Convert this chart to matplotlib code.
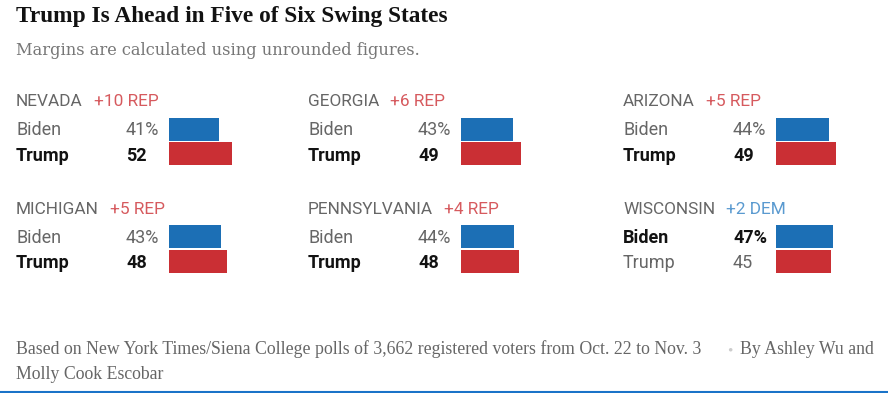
import matplotlib

matplotlib.use("Agg")
import matplotlib.pyplot as plt

W, H = 888, 393

states = ["NEVADA", "GEORGIA", "ARIZONA", "MICHIGAN", "PENNSYLVANIA", "WISCONSIN"]
biden = [41, 43, 44, 43, 44, 47]
trump = [52, 49, 49, 48, 48, 45]
margin_labels = ["+10 REP", "+6 REP", "+5 REP", "+5 REP", "+4 REP", "+2 DEM"]
leader = ["REP", "REP", "REP", "REP", "REP", "DEM"]

title = "Trump Is Ahead in Five of Six Swing States"
subtitle = "Margins are calculated using unrounded figures."
source = "Based on New York Times/Siena College polls of 3,662 registered voters from Oct. 22 to Nov. 3"
byline = "By Ashley Wu and"
byline2 = "Molly Cook Escobar"

BLUE = "#1c6fb5"
RED = "#ca2f34"
REP_TXT = "#d65a5e"
DEM_TXT = "#5a9ad0"
GRAY = "#666666"

SANS = ["Roboto", "DejaVu Sans"]
SERIF = ["Liberation Serif", "DejaVu Serif"]

fig = plt.figure(figsize=(W / 100, H / 100), dpi=100)
renderer = fig.canvas.get_renderer()


def txt(x, y, s, **kw):
    # pixel coords measured from top-left
    return fig.text(x / W, 1 - y / H, s, va="baseline", **kw)


txt(16, 22, title, fontsize=16.8, fontweight="bold", family=SERIF, color="#121212")
txt(16, 55, subtitle, fontsize=11.7, family=["DejaVu Serif"], color="#777777")

col_x = [16, 308, 623]
row_y = [0, 107.5]
px_per_pt = 1.215

for i, st in enumerate(states):
    x0 = col_x[i % 3]
    dy = row_y[i // 3]
    t = txt(x0, 106 + dy, st, fontsize=12.4, family=SANS, color=GRAY)
    right = t.get_window_extent(renderer).x1
    txt(right + 11, 106 + dy, margin_labels[i], fontsize=12.4, family=SANS,
        color=REP_TXT if leader[i] == "REP" else DEM_TXT)

    b_win = biden[i] > trump[i]
    rows = [("Biden", f"{biden[i]}%", b_win), ("Trump", f"{trump[i]}", not b_win)]
    for k, (name, val, win) in enumerate(rows):
        yb = 135 + dy + 26 * k
        style = dict(fontsize=13, family=SANS,
                     color="#121212" if win else GRAY,
                     fontweight="bold" if win else "normal")
        txt(x0, yb, name, **style)
        txt(x0 + 110, yb, val, **style)

    # bars for this state
    bw = 110
    ax = fig.add_axes([(x0 + 153) / W, 1 - (166 + dy) / H, bw / W, 49 / H])
    ax.barh([0, 1], [biden[i], trump[i]], height=0.92, color=[BLUE, RED])
    ax.set_xlim(0, bw / px_per_pt)
    ax.set_ylim(1.5, -0.5)
    ax.axis("off")

txt(16, 354, source, fontsize=12.8, family=SERIF, color=GRAY)
txt(727, 354, "\u2022", fontsize=11, family=SERIF, color="#cccccc")
txt(740, 354, byline, fontsize=12.8, family=SERIF, color=GRAY)
txt(16, 379, byline2, fontsize=12.8, family=SERIF, color=GRAY)

fig.add_artist(plt.Line2D([0, 1], [1 - 391.5 / H] * 2, color="#1a73c8", lw=1.5,
                          transform=fig.transFigure))

fig.savefig("out.png", dpi=100, facecolor="white")
